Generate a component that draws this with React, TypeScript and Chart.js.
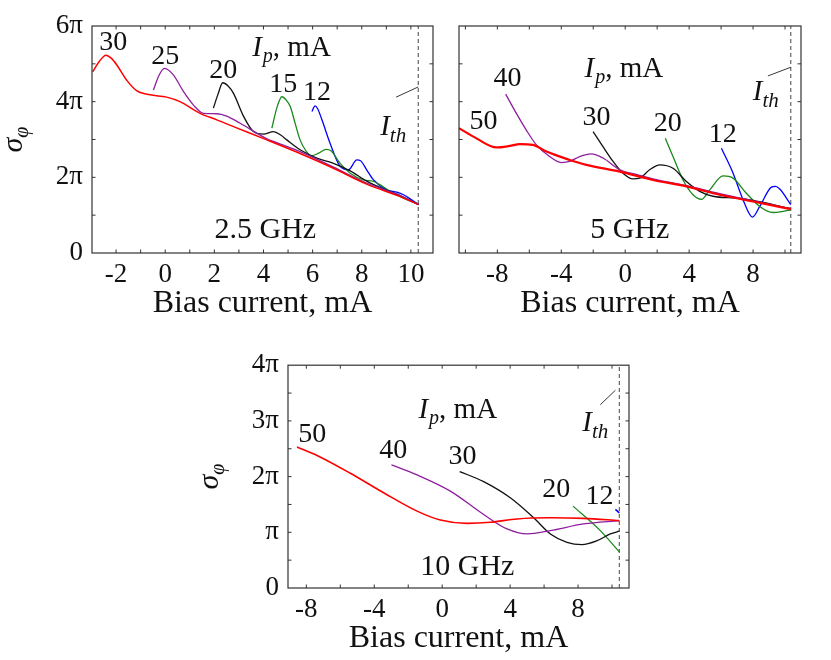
import { useEffect, useRef } from "react";
import { Chart, registerables } from "chart.js";

Chart.register(...registerables);

type Pt = [number, number];

// sigma_phi is kept in units of pi, bias current in mA

// 2.5 GHz
const g25_i30: Pt[] = [[-2.95, 4.79], [-2.7, 5.05], [-2.41, 5.23], [-2.2, 5.15], [-1.97, 4.97], [-1.57, 4.57], [-1.16, 4.29], [-0.62, 4.18], [0.06, 4.12], [0.6, 4.0], [1.42, 3.69], [2.1, 3.52], [2.78, 3.34], [4.14, 2.99], [5.49, 2.63], [6.85, 2.24], [8.2, 1.82], [9.57, 1.49], [10.31, 1.28]];
const g25_i25: Pt[] = [[-0.48, 4.31], [-0.25, 4.7], [-0.03, 4.88], [0.33, 4.71], [0.74, 4.27], [1.15, 3.91], [1.56, 3.69], [2.1, 3.68], [2.5, 3.62], [3.05, 3.43], [4.14, 3.02], [4.54, 2.92], [5.49, 2.68], [6.85, 2.27], [8.2, 1.85], [9.57, 1.51], [10.31, 1.28]];
const g25_i20: Pt[] = [[1.96, 3.83], [2.15, 4.2], [2.34, 4.5], [2.55, 4.42], [2.78, 4.22], [3.19, 3.61], [3.59, 3.21], [4.0, 3.14], [4.41, 3.21], [4.7, 3.12], [4.95, 2.99], [5.49, 2.73], [6.17, 2.51], [6.85, 2.37], [7.53, 2.17], [8.2, 1.9], [9.0, 1.66], [9.57, 1.52], [10.31, 1.28]];
const g25_i15: Pt[] = [[4.34, 3.3], [4.55, 3.85], [4.75, 4.13], [4.95, 4.02], [5.09, 3.87], [5.3, 3.4], [5.49, 2.99], [5.75, 2.68], [5.97, 2.57], [6.25, 2.64], [6.55, 2.74], [6.75, 2.7], [7.12, 2.37], [7.53, 2.11], [8.07, 1.93], [8.48, 1.89], [8.8, 1.78], [9.16, 1.63], [9.7, 1.45], [10.31, 1.28]];
const g25_i12: Pt[] = [[5.97, 3.74], [6.1, 3.89], [6.2, 3.82], [6.38, 3.52], [6.71, 2.9], [7.12, 2.29], [7.46, 2.2], [7.8, 2.46], [7.95, 2.44], [8.2, 2.2], [8.48, 1.93], [9.02, 1.67], [9.43, 1.61], [9.7, 1.54], [10.0, 1.42], [10.31, 1.28]];

// 5 GHz
const g5_i50: Pt[] = [[-10.4, 3.3], [-9.31, 3.03], [-8.06, 2.79], [-7.23, 2.83], [-6.6, 2.88], [-5.77, 2.86], [-4.93, 2.68], [-3.47, 2.46], [-2.43, 2.33], [-0.34, 2.15], [1.74, 1.93], [3.83, 1.76], [5.91, 1.54], [8.0, 1.36], [10.36, 1.16]];
const g5_i40: Pt[] = [[-7.48, 4.2], [-6.81, 3.69], [-6.19, 3.25], [-5.56, 2.86], [-4.73, 2.55], [-4.0, 2.39], [-3.47, 2.42], [-2.85, 2.55], [-2.12, 2.62], [-1.39, 2.51], [-0.34, 2.2], [0.7, 2.08], [1.74, 1.96], [3.83, 1.78], [5.91, 1.57], [8.0, 1.38], [10.36, 1.17]];
const g5_i30: Pt[] = [[-2.01, 3.21], [-1.39, 2.81], [-0.76, 2.42], [-0.14, 2.11], [0.49, 1.96], [0.91, 1.98], [1.53, 2.2], [2.16, 2.33], [2.99, 2.24], [3.83, 1.89], [4.66, 1.63], [5.5, 1.5], [6.96, 1.45], [8.0, 1.39], [10.36, 1.17]];
const g5_i20: Pt[] = [[2.51, 3.03], [2.99, 2.55], [3.62, 1.93], [4.24, 1.54], [4.77, 1.42], [5.29, 1.67], [6.12, 2.04], [6.75, 1.98], [7.58, 1.58], [8.42, 1.23], [9.25, 1.07], [9.88, 1.1], [10.36, 1.14]];
const g5_i12: Pt[] = [[6.02, 2.77], [6.75, 2.11], [7.37, 1.41], [7.96, 0.95], [8.42, 1.23], [9.15, 1.74], [9.4, 1.76], [9.67, 1.69], [10.36, 1.28]];

// 10 GHz
const g10_i50: Pt[] = [[-8.55, 2.53], [-7.37, 2.38], [-5.41, 2.06], [-3.45, 1.71], [-1.48, 1.38], [-0.11, 1.22], [1.46, 1.16], [2.84, 1.18], [4.41, 1.24], [6.37, 1.26], [8.33, 1.25], [10.43, 1.21]];
const g10_i40: Pt[] = [[-2.99, 2.21], [-1.48, 2.03], [0.48, 1.74], [2.44, 1.32], [3.82, 1.06], [5.0, 0.97], [6.37, 1.03], [8.33, 1.15], [10.43, 1.21]];
const g10_i30: Pt[] = [[1.03, 2.09], [2.44, 1.91], [4.01, 1.62], [5.39, 1.26], [6.37, 0.97], [7.35, 0.82], [8.23, 0.78], [9.12, 0.85], [9.9, 0.97], [10.43, 1.02]];
const g10_i20: Pt[] = [[7.7, 1.47], [9.31, 1.03], [10.43, 0.65]];
const g10_i12: Pt[] = [[10.2, 1.41], [10.43, 1.35]];

// threshold currents
const ith25 = 10.3;
const ith5 = 10.36;
const ith10 = 10.43;

const xTicks25 = [-2, 0, 2, 4, 6, 8, 10];
const xTicks5 = [-8, -4, 0, 4, 8];
const xTicks10 = [-8, -4, 0, 4, 8];
const yTicks25 = [0, 2, 4, 6];
const yTicks10 = [0, 1, 2, 3, 4];

const FONT = '"Liberation Serif", "Times New Roman", serif';
const RED = "#ff0000";
const PURPLE = "#8e1f9e";
const BLACK = "#111111";
const GREEN = "#1a8a1a";
const BLUE = "#0000ff";

type Series = { pts: Pt[]; color: string; width: number };
type Tag = { text: string; x: number; y: number };

type PanelCfg = {
  left: number;
  top: number;
  w: number;
  h: number;
  pad: { left: number; top: number; right: number; bottom: number };
  yWidth: number;
  xHeight: number;
  xMin: number;
  xMax: number;
  yMax: number;
  xStep: number;
  yStep: number;
  xTicks: number[];
  yTicks: number[] | null;
  ith: number;
  series: Series[];
  tags: Tag[];
  freq: Tag;
  ip: { x: number; y: number };
  ithTag: { x: number; y: number };
  leader: [number, number, number, number];
  titlePad: number;
};

const piLabel = (v: number) => (v === 0 ? "0" : v === 1 ? "π" : v + "π");

const panels: PanelCfg[] = [
  {
    left: 0, top: 0, w: 440, h: 320,
    pad: { left: 0, top: 26, right: 7, bottom: 0 },
    yWidth: 92, xHeight: 67,
    xMin: -2.98, xMax: 10.9, yMax: 6, xStep: 1, yStep: 1,
    xTicks: xTicks25, yTicks: yTicks25, ith: ith25,
    series: [
      { pts: g25_i30, color: RED, width: 1.5 },
      { pts: g25_i25, color: PURPLE, width: 1.3 },
      { pts: g25_i20, color: BLACK, width: 1.3 },
      { pts: g25_i15, color: GREEN, width: 1.3 },
      { pts: g25_i12, color: BLUE, width: 1.3 },
    ],
    tags: [
      { text: "30", x: -2.12, y: 5.55 },
      { text: "25", x: 0.0, y: 5.18 },
      { text: "20", x: 2.36, y: 4.83 },
      { text: "15", x: 4.8, y: 4.44 },
      { text: "12", x: 6.18, y: 4.23 },
    ],
    freq: { text: "2.5 GHz", x: 4.07, y: 0.61 },
    ip: { x: 3.54, y: 5.2 },
    ithTag: { x: 8.75, y: 3.12 },
    leader: [9.4, 4.12, 10.3, 4.39],
    titlePad: 0,
  },
  {
    left: 440, top: 0, w: 391, h: 320,
    pad: { left: 19, top: 26, right: 30, bottom: 0 },
    yWidth: 0, xHeight: 67,
    xMin: -10.4, xMax: 11.0, yMax: 6, xStep: 2, yStep: 1,
    xTicks: xTicks5, yTicks: null, ith: ith5,
    series: [
      { pts: g5_i50, color: RED, width: 2.2 },
      { pts: g5_i40, color: PURPLE, width: 1.3 },
      { pts: g5_i30, color: BLACK, width: 1.3 },
      { pts: g5_i20, color: GREEN, width: 1.3 },
      { pts: g5_i12, color: BLUE, width: 1.3 },
    ],
    tags: [
      { text: "40", x: -7.36, y: 4.62 },
      { text: "50", x: -8.86, y: 3.46 },
      { text: "30", x: -1.79, y: 3.59 },
      { text: "20", x: 2.66, y: 3.43 },
      { text: "12", x: 6.1, y: 3.12 },
    ],
    freq: { text: "5 GHz", x: 0.29, y: 0.61 },
    ip: { x: -2.54, y: 4.65 },
    ithTag: { x: 7.98, y: 4.04 },
    leader: [8.93, 4.68, 10.36, 4.91],
    titlePad: 0,
  },
  {
    left: 200, top: 340, w: 440, h: 320,
    pad: { left: 0, top: 22, right: 11, bottom: 0 },
    yWidth: 88, xHeight: 72,
    xMin: -9.08, xMax: 11.0, yMax: 4, xStep: 2, yStep: 0.5,
    xTicks: xTicks10, yTicks: yTicks10, ith: ith10,
    series: [
      { pts: g10_i50, color: RED, width: 1.6 },
      { pts: g10_i40, color: PURPLE, width: 1.3 },
      { pts: g10_i30, color: BLACK, width: 1.3 },
      { pts: g10_i20, color: GREEN, width: 1.3 },
      { pts: g10_i12, color: BLUE, width: 1.6 },
    ],
    tags: [
      { text: "50", x: -7.65, y: 2.76 },
      { text: "40", x: -2.88, y: 2.47 },
      { text: "30", x: 1.19, y: 2.35 },
      { text: "20", x: 6.72, y: 1.77 },
      { text: "12", x: 9.26, y: 1.64 },
    ],
    freq: { text: "10 GHz", x: 1.48, y: 0.37 },
    ip: { x: -1.4, y: 3.06 },
    ithTag: { x: 8.25, y: 2.81 },
    leader: [9.31, 3.29, 10.2, 3.55],
    titlePad: 5,
  },
];

function decorations(cfg: PanelCfg) {
  return {
    id: "decorations",
    afterDatasetsDraw(chart: Chart) {
      const { ctx, chartArea: a } = chart;
      const xs = chart.scales.x;
      const ys = chart.scales.y;
      const X = (v: number) => xs.getPixelForValue(v);
      const Y = (v: number) => ys.getPixelForValue(v);
      ctx.save();

      // frame and inward ticks
      ctx.strokeStyle = "#333";
      ctx.lineWidth = 1.2;
      ctx.strokeRect(a.left, a.top, a.right - a.left, a.bottom - a.top);
      ctx.lineWidth = 1;
      ctx.beginPath();
      const x0 = Math.ceil(cfg.xMin / cfg.xStep);
      for (let i = x0; i * cfg.xStep <= cfg.xMax; i++) {
        const px = X(i * cfg.xStep);
        ctx.moveTo(px, a.bottom);
        ctx.lineTo(px, a.bottom - 3.5);
        ctx.moveTo(px, a.top);
        ctx.lineTo(px, a.top + 3.5);
      }
      for (let i = 1; i * cfg.yStep < cfg.yMax; i++) {
        const py = Y(i * cfg.yStep);
        ctx.moveTo(a.left, py);
        ctx.lineTo(a.left + 3.5, py);
        ctx.moveTo(a.right, py);
        ctx.lineTo(a.right - 3.5, py);
      }
      ctx.stroke();

      ctx.fillStyle = "#111";
      // curve labels
      ctx.font = `28px ${FONT}`;
      ctx.textAlign = "center";
      ctx.textBaseline = "middle";
      cfg.tags.forEach((t) => ctx.fillText(t.text, X(t.x), Y(t.y)));
      ctx.font = `30px ${FONT}`;
      ctx.fillText(cfg.freq.text, X(cfg.freq.x), Y(cfg.freq.y));

      // I_p, mA
      ctx.textAlign = "left";
      ctx.textBaseline = "alphabetic";
      let px = X(cfg.ip.x);
      const py = Y(cfg.ip.y);
      ctx.font = `italic 29px ${FONT}`;
      ctx.fillText("I", px, py);
      px += ctx.measureText("I").width + 1;
      ctx.font = `italic 20px ${FONT}`;
      ctx.fillText("p", px, py + 6);
      px += ctx.measureText("p").width;
      ctx.font = `29px ${FONT}`;
      ctx.fillText(", mA", px, py);

      // I_th
      let tx = X(cfg.ithTag.x);
      const ty = Y(cfg.ithTag.y);
      ctx.font = `italic 29px ${FONT}`;
      ctx.fillText("I", tx, ty);
      tx += ctx.measureText("I").width;
      ctx.font = `italic 21px ${FONT}`;
      ctx.fillText("th", tx, ty + 7);

      ctx.strokeStyle = "#222";
      ctx.lineWidth = 0.9;
      ctx.beginPath();
      ctx.moveTo(X(cfg.leader[0]), Y(cfg.leader[1]));
      ctx.lineTo(X(cfg.leader[2]), Y(cfg.leader[3]));
      ctx.stroke();

      // sigma_phi axis title
      if (cfg.yTicks) {
        ctx.translate(a.left - 76, (a.top + a.bottom) / 2);
        ctx.rotate(-Math.PI / 2);
        ctx.textAlign = "left";
        ctx.textBaseline = "alphabetic";
        ctx.font = `italic 30px ${FONT}`;
        const ws = ctx.measureText("σ").width;
        ctx.font = `italic 20px ${FONT}`;
        const wp = ctx.measureText("φ").width;
        const start = -(ws + wp) / 2;
        ctx.font = `italic 30px ${FONT}`;
        ctx.fillText("σ", start, 6);
        ctx.font = `italic 20px ${FONT}`;
        ctx.fillText("φ", start + ws, 12);
      }
      ctx.restore();
    },
  };
}

function Panel({ cfg }: { cfg: PanelCfg }) {
  const ref = useRef<HTMLCanvasElement | null>(null);

  useEffect(() => {
    if (!ref.current) return;
    const datasets: any[] = cfg.series.map((s) => ({
      data: s.pts.map(([x, y]) => ({ x, y })),
      borderColor: s.color,
      borderWidth: s.width,
      pointRadius: 0,
      fill: false,
      cubicInterpolationMode: "monotone",
    }));
    datasets.push({
      data: [
        { x: cfg.ith, y: 0 },
        { x: cfg.ith, y: cfg.yMax },
      ],
      borderColor: "#555",
      borderWidth: 1.1,
      borderDash: [4, 3],
      pointRadius: 0,
      tension: 0,
      fill: false,
    });

    const chart = new Chart(ref.current, {
      type: "line",
      data: { datasets },
      plugins: [decorations(cfg)],
      options: {
        animation: false,
        responsive: false,
        events: [],
        layout: { padding: cfg.pad },
        plugins: { legend: { display: false }, tooltip: { enabled: false } },
        scales: {
          x: {
            type: "linear",
            min: cfg.xMin,
            max: cfg.xMax,
            grid: { display: false, drawTicks: false },
            border: { display: false },
            afterBuildTicks: (axis: any) => {
              axis.ticks = cfg.xTicks.map((v) => ({ value: v }));
            },
            afterFit: (axis: any) => {
              axis.height = cfg.xHeight;
            },
            ticks: {
              autoSkip: false,
              maxRotation: 0,
              padding: 6,
              color: "#111",
              font: { family: FONT, size: 27 },
              callback: (v: any) => String(v),
            },
            title: {
              display: true,
              text: "Bias current, mA",
              color: "#111",
              font: { family: FONT, size: 32, lineHeight: 1 },
              padding: { top: 0, bottom: cfg.titlePad },
            },
          },
          y: {
            type: "linear",
            min: 0,
            max: cfg.yMax,
            display: cfg.yTicks !== null,
            grid: { display: false, drawTicks: false },
            border: { display: false },
            afterBuildTicks: (axis: any) => {
              axis.ticks = (cfg.yTicks || []).map((v) => ({ value: v }));
            },
            afterFit: (axis: any) => {
              axis.width = cfg.yWidth;
            },
            ticks: {
              autoSkip: false,
              padding: 9,
              color: "#111",
              font: { family: FONT, size: 27 },
              callback: (v: any) => piLabel(Number(v)),
            },
          },
        },
      },
    });
    return () => chart.destroy();
  }, [cfg]);

  return (
    <canvas
      ref={ref}
      width={cfg.w}
      height={cfg.h}
      style={{ position: "absolute", left: cfg.left, top: cfg.top }}
    />
  );
}

export default function App() {
  return (
    <div style={{ position: "absolute", left: 0, top: 0, width: 831, height: 660, background: "#fff", overflow: "hidden" }}>
      {panels.map((p, i) => (
        <Panel key={i} cfg={p} />
      ))}
    </div>
  );
}
